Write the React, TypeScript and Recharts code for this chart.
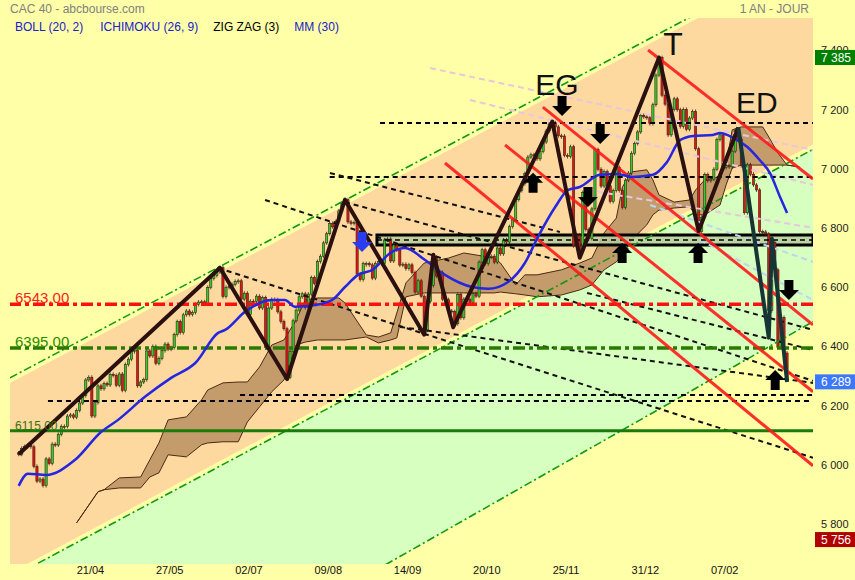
import {
  ComposedChart,
  XAxis,
  YAxis,
  Area,
  Bar,
  Line,
  ReferenceLine,
  ReferenceArea,
  ReferenceDot,
} from 'recharts';

// daily closes, CAC 40, 15/03 -> 04/03 (last one intraday)
const closes = [
  6036, 6056, 6062, 6067, 6061, 5995, 5945, 5952, 5930, 6020,
  6005, 6070, 6067, 6103, 6130, 6130, 6165, 6169, 6161, 6184,
  6209, 6234, 6287, 6296, 6165, 6210, 6267, 6257, 6275, 6270,
  6306, 6302, 6269, 6307, 6252, 6339, 6357, 6385, 6386, 6267,
  6280, 6288, 6385, 6368, 6400, 6343, 6360, 6386, 6408, 6391,
  6396, 6440, 6484, 6447, 6507, 6520, 6508, 6515, 6542, 6550,
  6551, 6546, 6600, 6630, 6640, 6652, 6667, 6569, 6600, 6603,
  6610, 6620, 6622, 6560, 6580, 6508, 6553, 6552, 6570, 6530,
  6565, 6396, 6530, 6559, 6558, 6517, 6484, 6460, 6296, 6383,
  6487, 6523, 6568, 6578, 6532, 6577, 6633, 6613, 6687, 6705,
  6750, 6781, 6816, 6804, 6822, 6858, 6883, 6896, 6821, 6816,
  6819, 6645, 6626, 6680, 6680, 6676, 6631, 6681, 6687, 6680,
  6760, 6763, 6689, 6743, 6726, 6675, 6678, 6663, 6676, 6650,
  6584, 6622, 6570, 6455, 6552, 6606, 6701, 6638, 6650, 6560,
  6558, 6520, 6518, 6477, 6576, 6497, 6560, 6560, 6548, 6579,
  6570, 6685, 6727, 6680, 6703, 6705, 6685, 6733, 6713, 6760,
  6753, 6805, 6830, 6896, 6927, 6950, 6984, 7040, 7048, 7046,
  7034, 7059, 7091, 7128, 7152, 7156, 7142, 7112, 7111, 7046,
  7042, 7075, 6740, 6776, 6721, 6920, 6795, 6765, 6865, 7065,
  6999, 6942, 6991, 6943, 6890, 6927, 7005, 6927, 6870, 6962,
  6986, 7053, 7086, 7125, 7181, 7176, 7173, 7153, 7217, 7317,
  7376, 7249, 7219, 7115, 7201, 7237, 7200, 7143, 7201, 7134,
  7172, 7194, 7068, 6788, 6837, 6981, 6960, 6965, 6999, 7099,
  7115, 7005, 7011, 7007, 7060, 7130, 7101, 7011, 6852, 7014,
  6982, 6946, 6929, 6788, 6787, 6780, 6521, 6752, 6659, 6397,
  6498, 6378, 6289,
];
const firstOpen = 6040;

const dateTicks = [25, 51, 77, 103, 129, 155, 181, 207, 233];
const dateLabels = ['21/04', '27/05', '02/07', '09/08', '14/09', '20/10', '25/11', '31/12', '07/02'];
const priceTicks = [5800, 6000, 6200, 6400, 6600, 6800, 7000, 7200, 7400];

// zig zag (3%) pivots: [bar, price]
const zigzag: [number, number][] = [
  [0, 6036], [66, 6666], [88, 6290], [107, 6896], [133, 6440], [136, 6710],
  [142.5, 6465], [175, 7160], [184, 6700], [210, 7376], [223, 6790], [236, 7140],
];
const zigzagEnd: [number, number][] = [[236, 7140], [246, 6430], [247, 6765], [252, 6280]];

// MM(30)
const mm30: [number, number][] = [
  [0, 5929], [3, 5970], [9, 5966], [18.5, 6017], [27, 6111], [32.6, 6152], [41.4, 6230],
  [50, 6294], [58, 6345], [65.4, 6446], [67.7, 6456], [74.2, 6517], [83, 6557], [87.3, 6557],
  [90.6, 6534], [97.2, 6540], [102.8, 6557], [107, 6601], [111.3, 6642], [116, 6659],
  [122.4, 6720], [126.7, 6733], [133.3, 6692], [139.8, 6642], [148.7, 6601], [154, 6595],
  [160.5, 6618], [166, 6682], [170.3, 6770], [176, 6872], [180.2, 6929], [184, 6939],
  [190.6, 6980], [196.2, 6983], [201.4, 6973], [208, 6980], [212.6, 7023], [217, 7098],
  [221.2, 7111], [227.7, 7115], [230, 7121], [234.3, 7105], [239, 7074], [243, 7030],
  [246.4, 6986], [249.7, 6905], [252, 6851],
];

// ichimoku cloud: [bar, upper span, lower span]
const kumo: [number, number, number][] = [
  [19, 5804, 5804], [26, 5909, 5909], [28, 5916, 5916], [33, 5956, 5922], [40, 5959, 5922],
  [43, 6017, 5959], [46, 6074, 5973], [49, 6152, 6034], [55, 6162, 6027], [60, 6220, 6068],
  [62, 6253, 6074], [67, 6277, 6078], [72, 6280, 6078], [75, 6280, 6145], [79, 6331, 6196],
  [83, 6405, 6247], [87, 6422, 6287], [91, 6490, 6405], [94, 6557, 6415], [98, 6564, 6422],
  [105, 6564, 6422], [107, 6547, 6422], [114, 6439, 6432], [118, 6432, 6412], [122, 6446, 6422],
  [124, 6513, 6429], [127, 6615, 6568], [133, 6682, 6581], [141, 6699, 6581], [146, 6716, 6581],
  [156, 6699, 6581], [158, 6682, 6584], [163, 6608, 6578], [166, 6642, 6574], [170, 6642, 6568],
  [178, 6659, 6574], [184, 6682, 6591], [188, 6699, 6608], [192, 6784, 6659], [196, 6834, 6686],
  [198, 6939, 6709], [201, 6990, 6760], [206, 6997, 6811], [208, 6963, 6845], [210, 6912, 6861],
  [215, 6888, 6868], [220, 6895, 6872], [222, 6929, 6845], [225, 6963, 6845], [230, 6973, 6878],
  [232, 7013, 6946], [234, 7132, 7003], [237, 7142, 7013], [244, 7142, 7013], [246, 7108, 7013],
  [249, 7054, 7013], [252, 7013, 7013], [256, 7007, 7007],
];

const X_MIN = -2.85;
const X_MAX = 260.5;

// rising channel lines
const channelUp: [number, number][] = [[X_MIN, 6294], [X_MAX, 7733]];
const channelDown: [number, number][] = [[X_MIN, 5617], [X_MAX, 7066]];
const channelLow: [number, number][] = [[X_MIN, 4941], [X_MAX, 6484]];

const levelRed = 6543;
const levelGreen = 6395;
const levelSupport = 6115;

type Seg = [[number, number], [number, number]];
const redLines: Seg[] = [
  [[206.4, 7402], [X_MAX, 6966]],
  [[171.9, 7209], [X_MAX, 6473]],
  [[159.5, 7081], [X_MAX, 6247]],
  [[139.8, 7020], [X_MAX, 5997]],
];
const dashedLines: Seg[] = [
  [[65.4, 6665], [X_MAX, 6024]],
  [[80.8, 6895], [X_MAX, 6284]],
  [[102.1, 6986], [177.5, 6787]],
  [[107, 6888], [X_MAX, 6456]],
  [[125.1, 6466], [X_MAX, 6277]],
  [[186.4, 6581], [X_MAX, 6388]],
];
const flatDashed: [number, number][] = [[118.5, 7155], [102, 6973], [9.6, 6216], [72.6, 6236]];
const paleRose: Seg[] = [
  [[134.9, 7341], [X_MAX, 7064]],
  [[148, 7233], [X_MAX, 6946]],
  [[186.4, 6929], [X_MAX, 6801]],
];
const paleBlue: Seg[] = [
  [[207.1, 6878], [X_MAX, 6686]],
  [[223.4, 6760], [X_MAX, 6557]],
];
const boxZone = { from: 117.5, low: 6743, high: 6777 };

const arrowsDown: [number, number][] = [[178.2, 7213], [190.7, 7118], [186.7, 6905], [252.6, 6591]];
const arrowsUp: [number, number][] = [[168.7, 6953], [197.9, 6716], [222.8, 6716], [248.1, 6287]];
const blueArrow: [number, number] = [112.6, 6753];

const patterns: [string, number, number, number][] = [
  ['EG', 176.5, 7284, 30],
  ['T', 214.6, 7422, 32],
  ['ED', 242.1, 7223, 30],
];
const priceTags: [number, string][] = [[7385, '#008000'], [6289, '#3c78ff'], [5756, '#b00000']];

const rows = closes.map((c, i) => ({ i, o: i === 0 ? firstOpen : closes[i - 1], c }));
const pts = (a: [number, number][]) => a.map(([i, v]) => ({ i, v }));
const band = (lo: [number, number][], hi: [number, number][], inset = 0) =>
  lo.map(([i, v], k) => ({ i, r: [v + inset, hi[k][1] - inset] }));
const fmt = (v: number) => String(v).replace(/\B(?=(\d{3})+(?!\d))/g, ' ');

const FONT = "'Liberation Sans', Arial, sans-serif";

function Candle(props: any) {
  const { x, y, width, height, payload } = props;
  if (x == null || y == null || !payload) return null;
  const cx = x + width / 2;
  const up = payload.c >= payload.o;
  const h = Math.max(height || 0, 1);
  return (
    <g>
      <line x1={cx} x2={cx} y1={y - 2} y2={y + h + 2} stroke="#3a2410" strokeWidth={0.8} />
      <rect
        x={cx - 1.1}
        y={y}
        width={2.2}
        height={h}
        fill={up ? '#2fcf2f' : '#e31414'}
        stroke="#3a2410"
        strokeWidth={0.6}
      />
    </g>
  );
}

function arrow(dir: 'up' | 'down', color: string) {
  return (p: any) => {
    const { cx, cy } = p;
    const s = dir === 'down' ? 1 : -1;
    const shape = [
      [-4.5, -10 * s], [4.5, -10 * s], [4.5, 0], [10, 0], [0, 10 * s], [-10, 0], [-4.5, 0],
    ];
    return <polygon points={shape.map(([dx, dy]) => `${cx + dx},${cy + dy}`).join(' ')} fill={color} />;
  };
}

function DateTick(props: any) {
  const { x, payload } = props;
  const k = dateTicks.indexOf(payload.value);
  return (
    <text x={x - 4.5} y={574} textAnchor="middle" fontSize={11} fill="#111" fontFamily={FONT}>
      {dateLabels[k]}
    </text>
  );
}

export default function App() {
  const seg = (s: Seg) => [
    { x: s[0][0], y: s[0][1] },
    { x: s[1][0], y: s[1][1] },
  ];

  return (
    <div
      style={{
        position: 'absolute',
        left: 0,
        top: 0,
        width: 855,
        height: 580,
        background: '#ffffa8',
        fontFamily: FONT,
        overflow: 'hidden',
      }}
    >
      <ComposedChart
        width={855}
        height={580}
        data={rows}
        margin={{ top: 18, right: 0, bottom: 0, left: 10 }}
      >
        <XAxis
          type="number"
          dataKey="i"
          domain={[X_MIN, X_MAX]}
          allowDataOverflow
          ticks={dateTicks}
          tick={<DateTick />}
          axisLine={false}
          tickLine={false}
          height={16}
        />
        <YAxis
          type="number"
          orientation="right"
          domain={[5665, 7510]}
          allowDataOverflow
          ticks={priceTicks}
          tickFormatter={fmt}
          tick={{ fontSize: 11, fill: '#222' }}
          axisLine={false}
          tickLine={false}
          width={42}
        />

        <Area data={band(channelLow, channelDown)} dataKey="r" type="linear" fill="#d6ffc0" fillOpacity={1} stroke="none" isAnimationActive={false} />
        <Area data={band(channelDown, channelUp, 17)} dataKey="r" type="linear" fill="#fdd9a0" fillOpacity={1} stroke="none" isAnimationActive={false} />
        <Area
          data={kumo.map(([i, a, b]) => ({ i, r: [b, a] }))}
          dataKey="r"
          type="linear"
          fill="#c49c6c"
          fillOpacity={1}
          stroke="#4a2a12"
          strokeWidth={1}
          isAnimationActive={false}
        />

        {[channelUp, channelDown, channelLow].map((c, k) => (
          <ReferenceLine key={'ch' + k} segment={seg([c[0], c[1]])} stroke="#119911" strokeWidth={1.6} strokeDasharray="8 3 2 3" ifOverflow="hidden" />
        ))}

        {paleRose.map((s, k) => (
          <ReferenceLine key={'pr' + k} segment={seg(s)} stroke="#e8c6dc" strokeWidth={2} strokeDasharray="6 4" ifOverflow="hidden" />
        ))}
        {paleBlue.map((s, k) => (
          <ReferenceLine key={'pb' + k} segment={seg(s)} stroke="#bcd6f0" strokeWidth={2} strokeDasharray="6 4" ifOverflow="hidden" />
        ))}

        <ReferenceArea x1={boxZone.from} x2={X_MAX} y1={boxZone.low} y2={boxZone.high} fill="#b9cc9f" fillOpacity={0.85} stroke="#000" strokeWidth={3} ifOverflow="hidden" />
        <ReferenceLine segment={[{ x: boxZone.from, y: (boxZone.low + boxZone.high) / 2 }, { x: X_MAX, y: (boxZone.low + boxZone.high) / 2 }]} stroke="#000" strokeWidth={1.5} strokeDasharray="5 4" ifOverflow="hidden" />

        {flatDashed.map(([i, p], k) => (
          <ReferenceLine key={'fd' + k} segment={[{ x: i, y: p }, { x: X_MAX, y: p }]} stroke="#000" strokeWidth={2} strokeDasharray="5 4" ifOverflow="hidden" />
        ))}
        {dashedLines.map((s, k) => (
          <ReferenceLine key={'dl' + k} segment={seg(s)} stroke="#111" strokeWidth={2} strokeDasharray="5 4" ifOverflow="hidden" />
        ))}

        <ReferenceLine y={levelSupport} stroke="#1a7a0a" strokeWidth={3} />
        <ReferenceLine y={levelGreen} stroke="#2a7a00" strokeWidth={3.5} strokeDasharray="12 4 4 4" />
        <ReferenceLine y={levelRed} stroke="#ff1010" strokeWidth={3.5} strokeDasharray="12 4 4 4" />

        {redLines.map((s, k) => (
          <ReferenceLine key={'rl' + k} segment={seg(s)} stroke="#ff1a1a" strokeOpacity={0.9} strokeWidth={3} ifOverflow="hidden" />
        ))}

        <Bar dataKey={(d: any) => [Math.min(d.o, d.c), Math.max(d.o, d.c)]} barSize={3} shape={(p: any) => <Candle {...p} />} isAnimationActive={false} />

        <Line data={pts(mm30)} dataKey="v" type="monotone" stroke="#2626e0" strokeWidth={2.5} dot={false} isAnimationActive={false} />
        <Line data={pts(zigzag)} dataKey="v" type="linear" stroke="#2b1010" strokeWidth={4} strokeLinejoin="round" dot={false} isAnimationActive={false} />
        <Line data={pts(zigzagEnd)} dataKey="v" type="linear" stroke="#173535" strokeWidth={4} strokeLinejoin="round" dot={false} isAnimationActive={false} />

        {arrowsDown.map(([i, p], k) => (
          <ReferenceDot key={'ad' + k} x={i} y={p} r={0} ifOverflow="visible" shape={arrow('down', '#000')} />
        ))}
        {arrowsUp.map(([i, p], k) => (
          <ReferenceDot key={'au' + k} x={i} y={p} r={0} ifOverflow="visible" shape={arrow('up', '#000')} />
        ))}
        <ReferenceDot x={blueArrow[0]} y={blueArrow[1]} r={0} ifOverflow="visible" shape={arrow('down', '#2a3cf0')} />

        {patterns.map(([t, i, p, size]) => (
          <ReferenceDot
            key={t}
            x={i}
            y={p}
            r={0}
            ifOverflow="visible"
            shape={(q: any) => (
              <text x={q.cx} y={q.cy} textAnchor="middle" dominantBaseline="central" fontSize={size} fill="#111" fontFamily={FONT}>
                {t}
              </text>
            )}
          />
        ))}

        {[
          [levelRed, '#ff2020', 15],
          [levelGreen, '#2e8b00', 15],
          [levelSupport, '#3c6e0a', 12],
        ].map(([lv, col, fs]) => (
          <ReferenceDot
            key={'lab' + lv}
            x={-1.2}
            y={lv as number}
            r={0}
            ifOverflow="visible"
            shape={(q: any) => (
              <text x={q.cx} y={q.cy - 1} fontSize={fs as number} fill={col as string} fontFamily={FONT}>
                {(lv as number).toFixed(2)}
              </text>
            )}
          />
        ))}

        {priceTags.map(([v, col]) => (
          <ReferenceDot
            key={'tag' + v}
            x={X_MAX}
            y={v}
            r={0}
            ifOverflow="visible"
            zIndex={3000}
            shape={(q: any) => (
              <g>
                <rect x={q.cx + 2} y={q.cy - 5} width={44} height={15} fill={col} />
                <text x={q.cx + 8} y={q.cy + 7} fontSize={12} fill="#fff" fontFamily={FONT}>
                  {fmt(v)}
                </text>
              </g>
            )}
          />
        ))}
      </ComposedChart>

      <div style={{ position: 'absolute', left: 10, top: 2, fontSize: 12, color: '#808080' }}>CAC 40 - abcbourse.com</div>
      <div style={{ position: 'absolute', right: 46, top: 2, fontSize: 12, color: '#808080' }}>1 AN - JOUR</div>
      <div style={{ position: 'absolute', left: 15, top: 20, fontSize: 12, color: '#2020c8', whiteSpace: 'nowrap' }}>
        <span>BOLL (20, 2)</span>
        <span style={{ marginLeft: 17 }}>ICHIMOKU (26, 9)</span>
        <span style={{ marginLeft: 15, color: '#000' }}>ZIG ZAG (3)</span>
        <span style={{ marginLeft: 15 }}>MM (30)</span>
      </div>
    </div>
  );
}
